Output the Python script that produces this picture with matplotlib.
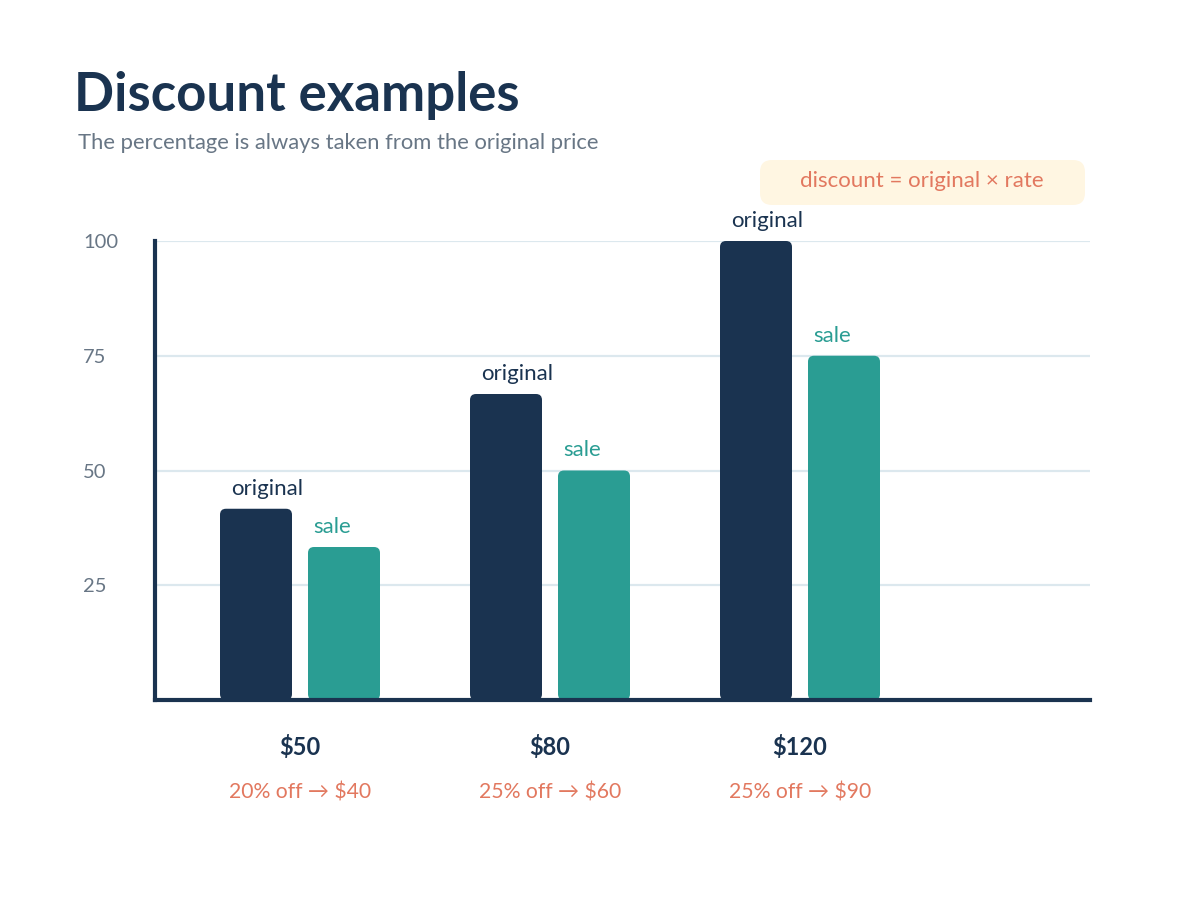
import matplotlib
matplotlib.use("Agg")
import matplotlib.pyplot as plt
from matplotlib.patches import FancyBboxPatch
import numpy as np

plt.rcParams["font.family"] = ["Lato", "DejaVu Sans"]

# data
price_labels = ["$50", "$80", "$120"]
deal_labels = ["20% off \u2192 $40", "25% off \u2192 $60", "25% off \u2192 $90"]
original_prices = [50, 80, 120]
sale_prices = [40, 60, 90]
y_ticks = [25, 50, 75, 100]

NAVY = "#1a3350"
TEAL = "#2a9d93"
CORAL = "#e2785f"
GRAY = "#687685"
GRID = "#dce8ee"

W, H = 1200, 900


def fx(px):
    return px / W


def fy(py):
    return 1 - py / H


# scale prices so the biggest one is 100
top = max(original_prices)
orig_h = [p / top * 100 for p in original_prices]
sale_h = [p / top * 100 for p in sale_prices]

fig = plt.figure(figsize=(12, 9), dpi=100)
ax = fig.add_axes([fx(155), fy(700), fx(1090) - fx(155), fy(241) - fy(700)])

x = np.arange(len(price_labels))
xlim = (-0.58, 3.16)
ax.set_xlim(*xlim)
ax.set_ylim(0, 100)

# pixel scale of data units, used to keep the corners round
px_x = (1090 - 155) / (xlim[1] - xlim[0])
px_y = (700 - 241) / 100.0
radius_px = 6
bar_w = 0.288
off = 0.176

for xi, ho, hs in zip(x, orig_h, sale_h):
    bars = [(xi - off, ho, NAVY, NAVY, "original", 11),
            (xi + off, hs, TEAL, TEAL, "sale", -12)]
    for cx, h, col, tcol, lab, shift in bars:
        patch = FancyBboxPatch(
            (cx - bar_w / 2, 0), bar_w, h,
            boxstyle=f"round,pad=0,rounding_size={radius_px / px_x}",
            mutation_aspect=px_x / px_y,
            facecolor=col, edgecolor="none", zorder=3, clip_on=False,
        )
        ax.add_patch(patch)
        ax.annotate(lab, (cx, h), xytext=(shift, 10), textcoords="offset pixels",
                    ha="center", va="bottom", fontsize=16, color=tcol)

ax.set_yticks(y_ticks)
ax.set_yticklabels([str(t) for t in y_ticks], fontsize=14.5, color=GRAY)
for t in ax.get_yticklabels():
    t.set_horizontalalignment("left")
ax.tick_params(axis="y", length=0, pad=(155 - 83) * 0.72)
ax.set_xticks([])
ax.grid(axis="y", color=GRID, linewidth=1.6, zorder=0)
ax.set_axisbelow(True)

for side in ["top", "right"]:
    ax.spines[side].set_visible(False)
for side in ["left", "bottom"]:
    ax.spines[side].set_color(NAVY)
    ax.spines[side].set_linewidth(3)
    ax.spines[side].set_zorder(4)

# category labels under the axis
for xi, pl, dl in zip(x, price_labels, deal_labels):
    ax.text(xi, -10.2, pl, ha="center", va="center", fontsize=17, fontweight="bold",
            color=NAVY, clip_on=False)
    ax.text(xi, -20.2, dl, ha="center", va="center", fontsize=15.2, color=CORAL,
            clip_on=False)

fig.text(fx(74), fy(95), "Discount examples", fontsize=38, fontweight="bold",
         color=NAVY, ha="left", va="center")
fig.text(fx(78), fy(143), "The percentage is always taken from the original price",
         fontsize=15.8, color=GRAY, ha="left", va="center")

# formula box
box = FancyBboxPatch((fx(760), fy(205)), fx(1085) - fx(760), fy(160) - fy(205),
                     boxstyle=f"round,pad=0,rounding_size={12 / W}",
                     mutation_aspect=W / H,
                     transform=fig.transFigure, facecolor="#fff6e2", edgecolor="none")
fig.patches.append(box)
fig.text(fx(922), fy(181), "discount = original \u00d7 rate", fontsize=16,
         color=CORAL, ha="center", va="center")

fig.savefig("out.png", dpi=100, facecolor="white")
